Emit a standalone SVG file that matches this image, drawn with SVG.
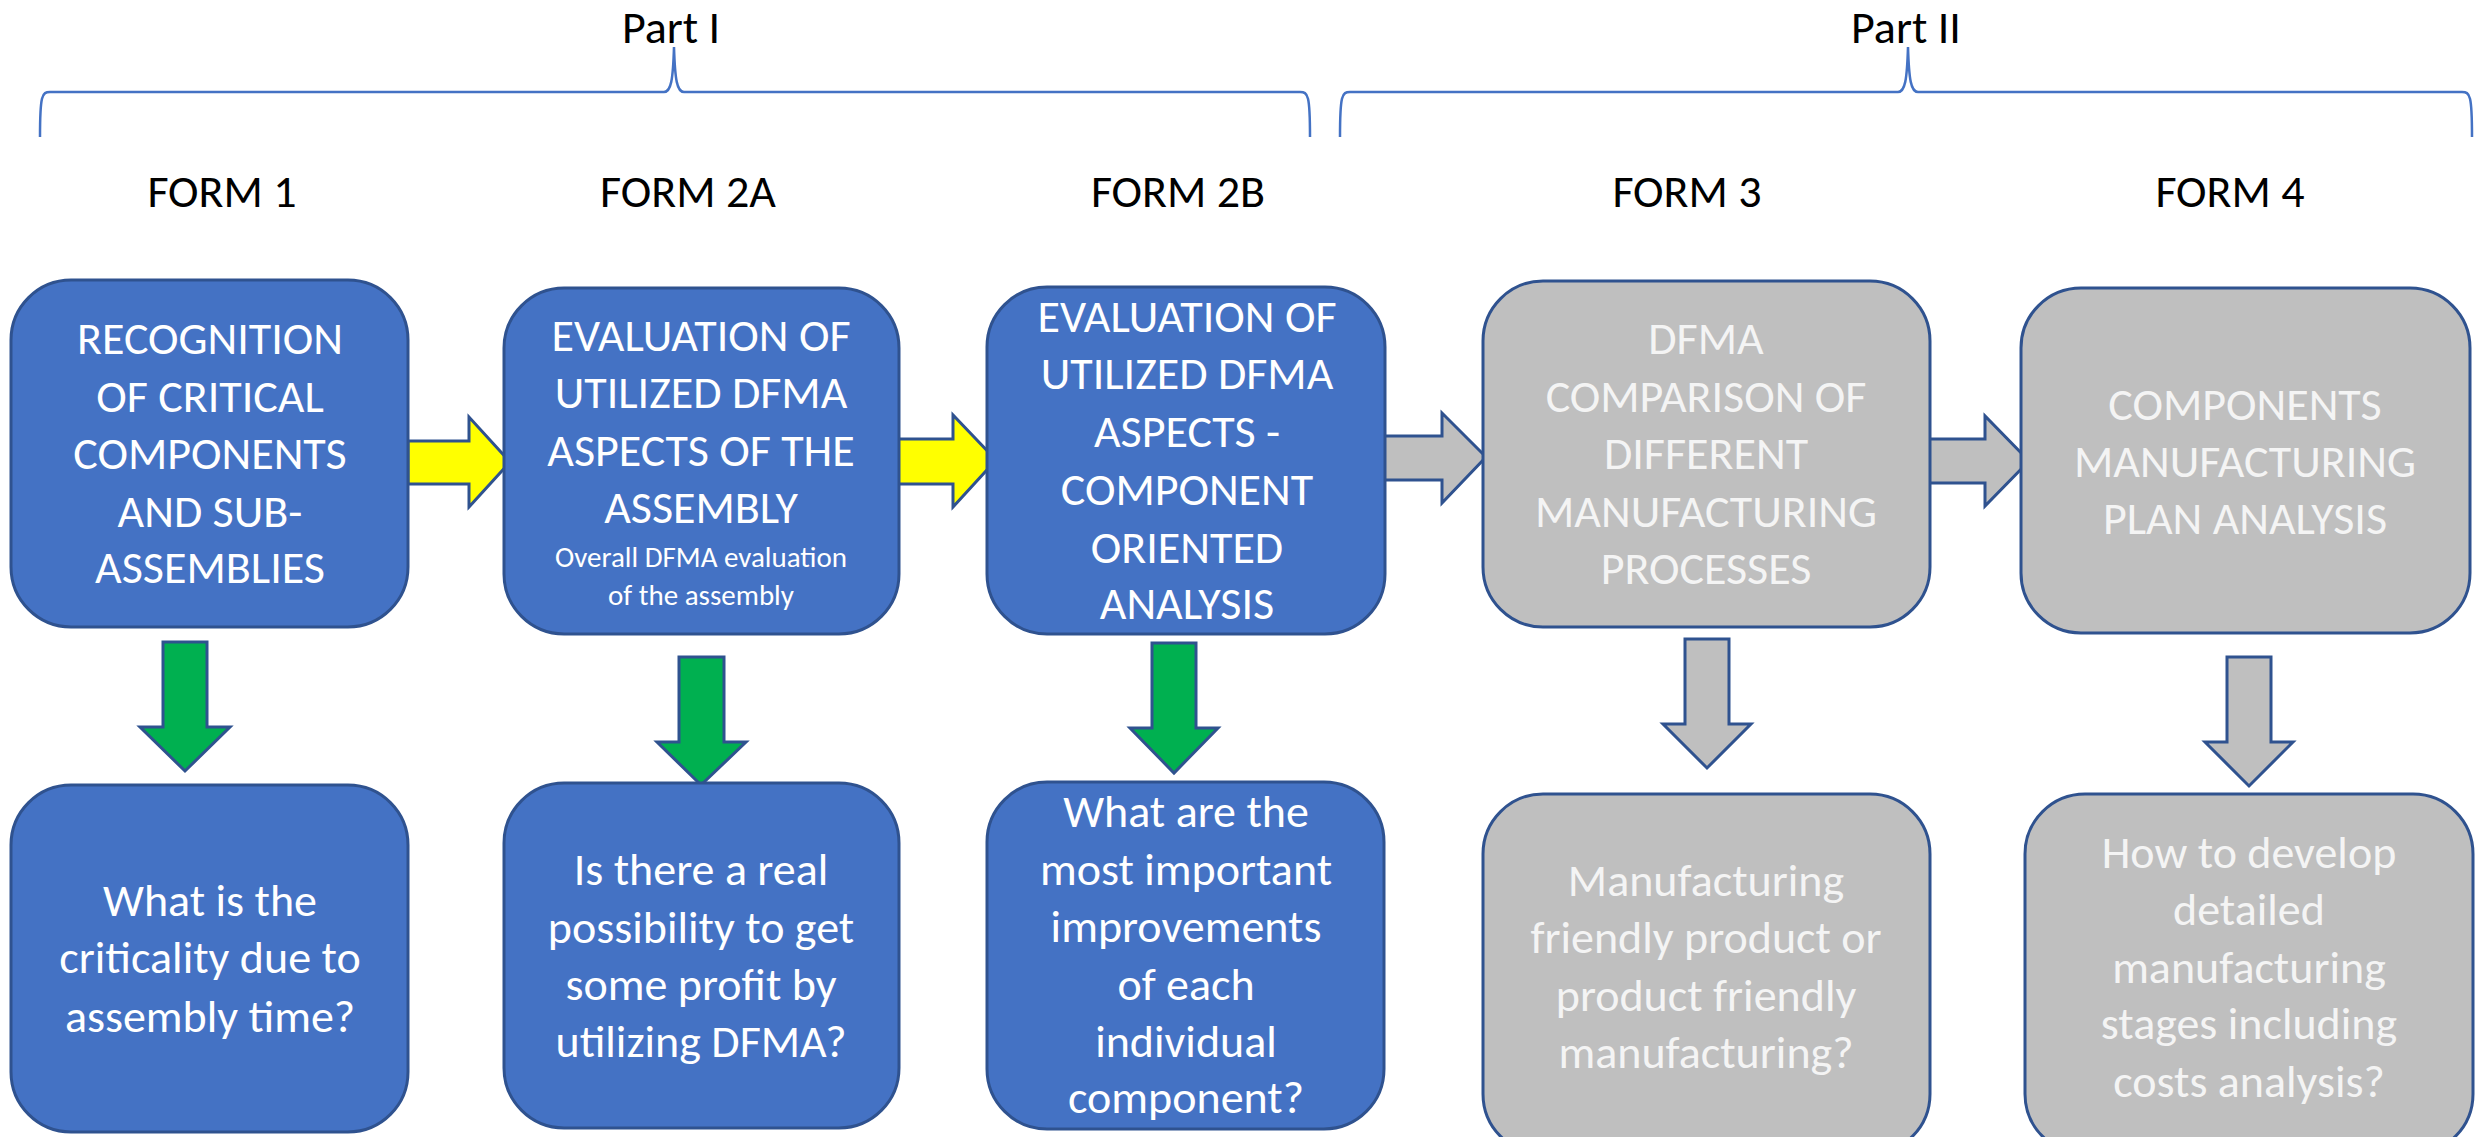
<svg xmlns="http://www.w3.org/2000/svg" width="2476" height="1137" viewBox="0 0 2476 1137">
<style>
text{font-family:Carlito,Calibri,Lato,"Liberation Sans",sans-serif;text-anchor:middle}
.lbl{font-size:46px;fill:#000}
.w{font-size:46px;fill:#fff}
.g{font-size:46px;fill:#f4f4f4}
.s{font-size:29px;fill:#fff}
.blue{fill:#4472C4;stroke:#2F528F;stroke-width:3}
.gray{fill:#BFBFBF;stroke:#2F528F;stroke-width:3}
.yel{fill:#FFFF00;stroke:#2F528F;stroke-width:3;stroke-linejoin:miter}
.grn{fill:#00B050;stroke:#2F528F;stroke-width:3;stroke-linejoin:miter}
.gar{fill:#BFBFBF;stroke:#2F528F;stroke-width:3;stroke-linejoin:miter}
.brace{fill:none;stroke:#4472C4;stroke-width:2.5}
</style>
<rect width="2476" height="1137" fill="#fff"/>
<g id="braces">
<path class="brace" d="M40 137 C40 95 42 92 50 92 L664 92 C671 92 673 80 674 47 C675 80 677 92 684 92 L1300 92 C1308 92 1310 95 1310 137"/>
<path class="brace" d="M1340 137 C1340 95 1342 92 1350 92 L1898 92 C1905 92 1907 80 1908 47 C1909 80 1911 92 1918 92 L2462 92 C2470 92 2472 95 2472 137"/>
<text class="lbl" x="671" y="43">Part I</text>
<text class="lbl" x="1906" y="43">Part II</text>
</g>
<g id="form-labels">
<text class="lbl" x="222" y="207">FORM 1</text>
<text class="lbl" x="688" y="207">FORM 2A</text>
<text class="lbl" x="1178" y="207">FORM 2B</text>
<text class="lbl" x="1687" y="207">FORM 3</text>
<text class="lbl" x="2230" y="207">FORM 4</text>
</g>
<g id="connectors">
<polygon class="yel" points="408,441 469,441 469,417 510,462 469,507 469,484 408,484"/>
<polygon class="yel" points="893,439 953,439 953,415 996,460 953,507 953,484 893,484"/>
<polygon class="gar" points="1382,436 1442,436 1442,413 1486,457 1442,503 1442,480 1382,480"/>
<polygon class="gar" points="1925,439 1985,439 1985,416 2029,461 1985,506 1985,483 1925,483"/>
<polygon class="grn" points="163,642 207,642 207,727 230,727 185,771 140,727 163,727"/>
<polygon class="grn" points="679,657 724,657 724,742 746,742 701,785 657,742 679,742"/>
<polygon class="grn" points="1152,643 1196,643 1196,728 1218,728 1174,773 1130,728 1152,728"/>
<polygon class="gar" points="1685,639 1729,639 1729,724 1751,724 1707,768 1663,724 1685,724"/>
<polygon class="gar" points="2227,657 2271,657 2271,742 2293,742 2249,786 2205,742 2227,742"/>
</g>
<g id="form1">
<rect class="blue" x="11" y="280" width="397" height="347" rx="60"/>
<text class="w" x="210" y="354">RECOGNITION</text>
<text class="w" x="210" y="412">OF CRITICAL</text>
<text class="w" x="210" y="469">COMPONENTS</text>
<text class="w" x="210" y="527">AND SUB-</text>
<text class="w" x="210" y="583">ASSEMBLIES</text>
</g>
<g id="form2a">
<rect class="blue" x="504" y="288" width="395" height="346" rx="60"/>
<text class="w" x="701" y="351">EVALUATION OF</text>
<text class="w" x="701" y="408">UTILIZED DFMA</text>
<text class="w" x="701" y="466">ASPECTS OF THE</text>
<text class="w" x="701" y="523">ASSEMBLY</text>
<text class="s" x="701" y="567">Overall DFMA evaluation</text>
<text class="s" x="701" y="605">of the assembly</text>
</g>
<g id="form2b">
<rect class="blue" x="987" y="287" width="398" height="347" rx="60"/>
<text class="w" x="1187" y="332">EVALUATION OF</text>
<text class="w" x="1187" y="389">UTILIZED DFMA</text>
<text class="w" x="1187" y="447">ASPECTS -</text>
<text class="w" x="1187" y="505">COMPONENT</text>
<text class="w" x="1187" y="563">ORIENTED</text>
<text class="w" x="1187" y="619">ANALYSIS</text>
</g>
<g id="form3">
<rect class="gray" x="1483" y="281" width="447" height="346" rx="60"/>
<text class="g" x="1706" y="354">DFMA</text>
<text class="g" x="1706" y="412">COMPARISON OF</text>
<text class="g" x="1706" y="469">DIFFERENT</text>
<text class="g" x="1706" y="527">MANUFACTURING</text>
<text class="g" x="1706" y="584">PROCESSES</text>
</g>
<g id="form4">
<rect class="gray" x="2021" y="288" width="449" height="345" rx="60"/>
<text class="g" x="2245" y="420">COMPONENTS</text>
<text class="g" x="2245" y="477">MANUFACTURING</text>
<text class="g" x="2245" y="534">PLAN ANALYSIS</text>
</g>
<g id="q1">
<rect class="blue" x="11" y="785" width="397" height="347" rx="60"/>
<text class="w" x="210" y="916">What is the</text>
<text class="w" x="210" y="973">criticality due to</text>
<text class="w" x="210" y="1032">assembly time?</text>
</g>
<g id="q2a">
<rect class="blue" x="504" y="783" width="395" height="345" rx="60"/>
<text class="w" x="701" y="885">Is there a real</text>
<text class="w" x="701" y="943">possibility to get</text>
<text class="w" x="701" y="1000">some profit by</text>
<text class="w" x="701" y="1057">utilizing DFMA?</text>
</g>
<g id="q2b">
<rect class="blue" x="987" y="782" width="397" height="347" rx="60"/>
<text class="w" x="1186" y="827">What are the</text>
<text class="w" x="1186" y="885">most important</text>
<text class="w" x="1186" y="942">improvements</text>
<text class="w" x="1186" y="1000">of each</text>
<text class="w" x="1186" y="1057">individual</text>
<text class="w" x="1186" y="1113">component?</text>
</g>
<g id="q3">
<rect class="gray" x="1483" y="794" width="447" height="360" rx="60"/>
<text class="g" x="1706" y="896">Manufacturing</text>
<text class="g" x="1706" y="953">friendly product or</text>
<text class="g" x="1706" y="1011">product friendly</text>
<text class="g" x="1706" y="1068">manufacturing?</text>
</g>
<g id="q4">
<rect class="gray" x="2025" y="794" width="448" height="360" rx="60"/>
<text class="g" x="2249" y="868">How to develop</text>
<text class="g" x="2249" y="925">detailed</text>
<text class="g" x="2249" y="983">manufacturing</text>
<text class="g" x="2249" y="1039">stages including</text>
<text class="g" x="2249" y="1097">costs analysis?</text>
</g>
</svg>
